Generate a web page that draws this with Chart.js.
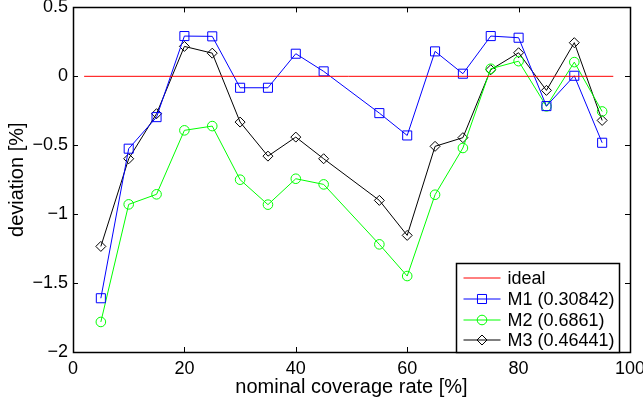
<!DOCTYPE html>
<html>
<head>
<meta charset="utf-8">
<script src="https://cdn.jsdelivr.net/npm/chart.js@4/dist/chart.umd.min.js"></script>
<style>
  body { margin: 0; background: #fff; }
  #chartDev { display: block; }
</style>
</head>
<body>
<canvas id="chartDev" width="643" height="400"></canvas>
<script>
// data
const rates  = [5, 10, 15, 20, 25, 30, 35, 40, 45, 55, 60, 65, 70, 75, 80, 85, 90, 95]
const m1Dev  = [-1.61, -0.525, -0.296, 0.292, 0.29, -0.083, -0.083, 0.164, 0.036, -0.267, -0.429, 0.181, 0.019, 0.292, 0.28, -0.216, 0.004, -0.482]
const m2Dev  = [-1.782, -0.929, -0.856, -0.392, -0.361, -0.75, -0.931, -0.743, -0.784, -1.219, -1.449, -0.859, -0.52, 0.055, 0.11, -0.218, 0.103, -0.255]
const m3Dev  = [-1.234, -0.598, -0.271, 0.217, 0.168, -0.332, -0.579, -0.441, -0.598, -0.9, -1.154, -0.508, -0.445, 0.048, 0.171, -0.102, 0.244, -0.32]
const idealX = [2, 97]
const idealY = [0, 0]
const seriesNames = ['ideal', 'M1 (0.30842)', 'M2 (0.6861)', 'M3 (0.46441)']
const xTicks = { min: 0, max: 100, step: 20 }
const yTicks = { min: -2, max: 0.5, step: 0.5 }

const FONT = '"Liberation Sans", Arial, Helvetica, sans-serif'

const toPoints = (xs, ys) => xs.map((x, i) => ({ x, y: ys[i] }))

// inward ticks + box around the axes (matlab style)
const axesBox = {
    id: 'axesBox',
    afterDatasetsDraw(chart) {
        const { ctx, chartArea: a, scales } = chart
        ctx.save()
        ctx.strokeStyle = '#000'
        ctx.lineWidth = 1
        ctx.beginPath()
        scales.x.ticks.forEach(t => {
            const px = Math.round(scales.x.getPixelForValue(t.value)) + 0.5
            ctx.moveTo(px, a.bottom); ctx.lineTo(px, a.bottom - 5)
            ctx.moveTo(px, a.top); ctx.lineTo(px, a.top + 5)
        })
        scales.y.ticks.forEach(t => {
            const py = Math.round(scales.y.getPixelForValue(t.value)) + 0.5
            ctx.moveTo(a.left, py); ctx.lineTo(a.left + 5, py)
            ctx.moveTo(a.right, py); ctx.lineTo(a.right - 5, py)
        })
        ctx.stroke()
        ctx.lineWidth = 1.5
        ctx.strokeRect(Math.round(a.left) + 0.5, Math.round(a.top) + 0.5,
            Math.round(a.right - a.left), Math.round(a.bottom - a.top))
        ctx.restore()
    }
}

// legend box in the lower right corner of the axes
const boxLegend = {
    id: 'boxLegend',
    afterDraw(chart) {
        const { ctx, chartArea: a } = chart
        const w = 163, h = 89
        const left = Math.round(a.right - 11 - w) + 0.5
        const top = Math.round(a.bottom - h) + 0.5
        ctx.save()
        ctx.fillStyle = '#fff'
        ctx.fillRect(left, top, w, h)
        ctx.strokeStyle = '#000'
        ctx.lineWidth = 1.5
        ctx.strokeRect(left, top, w, h)
        ctx.font = '18px ' + FONT
        ctx.textBaseline = 'middle'
        ctx.textAlign = 'left'
        chart.data.datasets.forEach((ds, i) => {
            const y = Math.round(top + 14.5 + i * 20.8)
            ctx.strokeStyle = ds.borderColor
            ctx.lineWidth = 1
            ctx.beginPath()
            ctx.moveTo(left + 7, y); ctx.lineTo(left + 44, y)
            ctx.stroke()
            if (ds.pointRadius > 0) {
                ctx.strokeStyle = ds.pointBorderColor
                ctx.fillStyle = 'rgba(0,0,0,0)'
                ctx.lineWidth = 1
                Chart.helpers.drawPoint(ctx, { pointStyle: ds.pointStyle, radius: ds.pointRadius, borderWidth: 1, rotation: 0 }, left + 25.5, y)
            }
            ctx.fillStyle = '#000'
            ctx.fillText(ds.label, left + 51, y + 1)
        })
        ctx.restore()
    }
}

const lineSet = (label, pts, color, style, radius) => ({
    label,
    data: pts,
    borderColor: color,
    borderWidth: 1,
    pointStyle: style,
    pointRadius: radius,
    pointHoverRadius: radius,
    pointBorderColor: color,
    pointBackgroundColor: 'rgba(0,0,0,0)',
    pointBorderWidth: 1,
    fill: false,
    tension: 0
})

new Chart(document.getElementById('chartDev'), {
    type: 'line',
    data: {
        datasets: [
            lineSet(seriesNames[0], toPoints(idealX, idealY), '#ff0000', false, 0),
            lineSet(seriesNames[1], toPoints(rates, m1Dev), '#0000ff', 'rect', 6.4),
            lineSet(seriesNames[2], toPoints(rates, m2Dev), '#00ff00', 'circle', 4.8),
            lineSet(seriesNames[3], toPoints(rates, m3Dev), '#000000', 'rectRot', 5)
        ]
    },
    options: {
        responsive: false,
        animation: false,
        devicePixelRatio: 1,
        layout: { padding: { left: 0, right: 13, top: 7, bottom: 0 } },
        plugins: {
            legend: { display: false },
            tooltip: { enabled: false }
        },
        scales: {
            x: {
                type: 'linear',
                min: xTicks.min,
                max: xTicks.max,
                grid: { display: false, drawTicks: false },
                border: { display: false },
                ticks: {
                    stepSize: xTicks.step,
                    color: '#000',
                    padding: 6,
                    maxRotation: 0,
                    font: { family: FONT, size: 18 }
                },
                title: {
                    display: true,
                    text: 'nominal coverage rate [%]',
                    color: '#000',
                    font: { family: FONT, size: 20 },
                    padding: { top: 0, bottom: 1 }
                },
                afterFit(scale) {
                    scale.height = 48
                    scale.paddingLeft = 0
                    scale.paddingRight = 0
                }
            },
            y: {
                min: yTicks.min,
                max: yTicks.max,
                grid: { display: false, drawTicks: false },
                border: { display: false },
                ticks: {
                    stepSize: yTicks.step,
                    color: '#000',
                    padding: 5,
                    font: { family: FONT, size: 18 },
                    callback: v => String(v).replace('-', '\u2212')
                },
                title: {
                    display: true,
                    text: 'deviation [%]',
                    color: '#000',
                    font: { family: FONT, size: 20 },
                    padding: { top: 5, bottom: 0 }
                },
                afterFit(scale) {
                    scale.width = 73
                    scale.paddingTop = 0
                    scale.paddingBottom = 0
                }
            }
        }
    },
    plugins: [axesBox, boxLegend]
})
</script>
</body>
</html>
